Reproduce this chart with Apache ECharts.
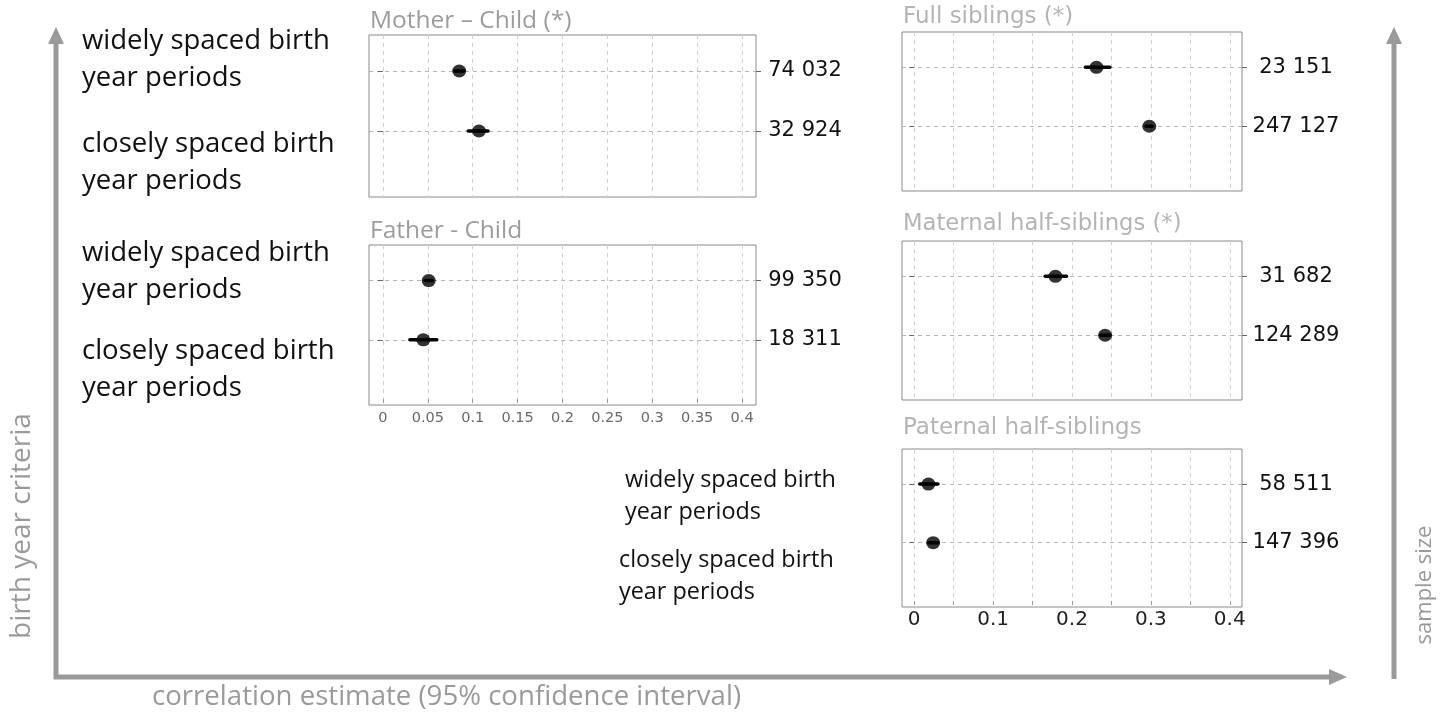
<!DOCTYPE html>
<html><head><meta charset="utf-8">
<script src="https://cdn.jsdelivr.net/npm/echarts@6/dist/echarts.min.js"></script>
<style>html,body{margin:0;padding:0;background:#fff}#c{width:1444px;height:713px}</style>
</head><body><div id="c"></div>
<script>
// ---- data ----
const xTicks = [0, 0.05, 0.1, 0.15, 0.2, 0.25, 0.3, 0.35, 0.4];
const xTicksCoarse = [0, 0.1, 0.2, 0.3, 0.4];
const rowValues = [2, 1]; // [widely spaced, closely spaced]
const rowLabels = ['widely spaced birth\nyear periods', 'closely spaced birth\nyear periods'];
const panelTitles = ['Mother – Child (*)', 'Father - Child', 'Full siblings (*)', 'Maternal half-siblings (*)', 'Paternal half-siblings'];

const motherEst = [0.085, 0.107];
const motherLo  = [0.080, 0.095];
const motherHi  = [0.090, 0.117];
const motherN   = ['74 032', '32 924'];

const fatherEst = [0.051, 0.045];
const fatherLo  = [0.047, 0.030];
const fatherHi  = [0.055, 0.060];
const fatherN   = ['99 350', '18 311'];

const fullEst = [0.231, 0.298];
const fullLo  = [0.217, 0.294];
const fullHi  = [0.248, 0.302];
const fullN   = ['23 151', '247 127'];

const matEst = [0.179, 0.242];
const matLo  = [0.166, 0.236];
const matHi  = [0.193, 0.248];
const matN   = ['31 682', '124 289'];

const patEst = [0.018, 0.024];
const patLo  = [0.007, 0.018];
const patHi  = [0.030, 0.030];
const patN   = ['58 511', '147 396'];

const panels = [
  {est: motherEst, lo: motherLo, hi: motherHi, n: motherN, grid: {left: 369, top: 35, width: 387, height: 162}, xlab: null, nMargin: 49},
  {est: fatherEst, lo: fatherLo, hi: fatherHi, n: fatherN, grid: {left: 369, top: 245, width: 387, height: 160}, xlab: 'fine', nMargin: 49},
  {est: fullEst, lo: fullLo, hi: fullHi, n: fullN, grid: {left: 902, top: 32, width: 340, height: 159}, xlab: null, nMargin: 54},
  {est: matEst, lo: matLo, hi: matHi, n: matN, grid: {left: 902, top: 241, width: 340, height: 159}, xlab: null, nMargin: 54},
  {est: patEst, lo: patLo, hi: patHi, n: patN, grid: {left: 902, top: 449, width: 340, height: 158}, xlab: 'coarse', nMargin: 54}
];

const grids = [], xAxes = [], yAxes = [], series = [];
panels.forEach((p, i) => {
  grids.push(Object.assign({show: true, borderColor: '#8a8a8a', borderWidth: 1, backgroundColor: 'transparent'}, p.grid));
  const coarse = p.xlab === 'coarse';
  xAxes.push({
    gridIndex: i, type: 'value', min: -0.0155, max: 0.4155,
    axisLine: {show: false},
    axisTick: {show: !!p.xlab, customValues: xTicks, length: 4, lineStyle: {color: '#999'}},
    axisLabel: {
      show: !!p.xlab,
      customValues: coarse ? xTicksCoarse : xTicks,
      formatter: v => String(+v.toFixed(2)),
      color: coarse ? '#222' : '#6a6a6a',
      fontFamily: 'DejaVu Sans', fontSize: coarse ? 20 : 14.5, margin: coarse ? 3 : 6
    },
    splitLine: {show: true, lineStyle: {color: '#d0d0d0', type: [4, 4], width: 1}}
  });
  const yBase = {gridIndex: i, type: 'value', min: -0.1, max: 2.6};
  yAxes.push(Object.assign({}, yBase, {
    position: 'left',
    axisLine: {show: false},
    axisTick: {show: true, customValues: rowValues, length: 5, lineStyle: {color: '#666'}},
    axisLabel: {show: false},
    splitLine: {show: true, lineStyle: {color: '#b5b5b5', type: [4, 4], width: 1}}
  }));
  yAxes.push(Object.assign({}, yBase, {
    position: 'right',
    axisLine: {show: false},
    axisTick: {show: true, customValues: rowValues, length: 5, lineStyle: {color: '#666'}},
    axisLabel: {
      show: true, customValues: rowValues,
      formatter: v => p.n[rowValues.indexOf(Math.round(v))],
      align: 'center', margin: p.nMargin,
      color: '#111', fontFamily: 'DejaVu Sans', fontSize: 21
    },
    splitLine: {show: false}
  }));
  series.push({
    type: 'custom', xAxisIndex: i, yAxisIndex: 2 * i, silent: true,
    data: rowValues.map((r, k) => [p.lo[k], p.hi[k], r]),
    renderItem: (params, api) => {
      const a = api.coord([api.value(0), api.value(2)]);
      const b = api.coord([api.value(1), api.value(2)]);
      return {type: 'line', shape: {x1: a[0], y1: a[1], x2: b[0], y2: b[1]}, style: {stroke: '#000', lineWidth: 3.5, lineCap: 'round'}};
    },
    z: 3
  });
  series.push({
    type: 'scatter', xAxisIndex: i, yAxisIndex: 2 * i, silent: true,
    data: rowValues.map((r, k) => [p.est[k], r]),
    symbol: 'circle', symbolSize: [14, 13],
    itemStyle: {color: '#000'}, z: 4
  });
});

const gray = '#9a9a9a';
const graphic = [
  // frame arrows
  {type: 'line', shape: {x1: 56, y1: 679, x2: 56, y2: 40}, style: {stroke: gray, lineWidth: 5}},
  {type: 'polygon', shape: {points: [[48, 44], [64, 44], [56, 27]]}, style: {fill: gray}},
  {type: 'line', shape: {x1: 54, y1: 677, x2: 1332, y2: 677}, style: {stroke: gray, lineWidth: 5}},
  {type: 'polygon', shape: {points: [[1329, 669], [1329, 685], [1347, 677]]}, style: {fill: gray}},
  {type: 'line', shape: {x1: 1394, y1: 679, x2: 1394, y2: 40}, style: {stroke: gray, lineWidth: 5}},
  {type: 'polygon', shape: {points: [[1386, 44], [1402, 44], [1394, 27]]}, style: {fill: gray}},
  // axis titles
  {type: 'text', x: 152, y: 697, style: {text: 'correlation estimate (95% confidence interval)', fill: gray, font: '27.6px "Open Sans"', textVerticalAlign: 'middle'}},
  {type: 'text', x: 22, y: 526, rotation: Math.PI / 2, style: {text: 'birth year criteria', fill: gray, font: '28px "Open Sans"', textAlign: 'center', textVerticalAlign: 'middle'}},
  {type: 'text', x: 1425, y: 585, rotation: Math.PI / 2, style: {text: 'sample size', fill: gray, font: '22px "Open Sans"', textAlign: 'center', textVerticalAlign: 'middle'}},
  // panel titles
  {type: 'text', x: 370, y: 21, style: {text: panelTitles[0], fill: '#9c9c9c', font: '24.5px "Open Sans"', textVerticalAlign: 'middle'}},
  {type: 'text', x: 370, y: 231, style: {text: panelTitles[1], fill: '#9c9c9c', font: '24.5px "Open Sans"', textVerticalAlign: 'middle'}},
  {type: 'text', x: 903, y: 17, style: {text: panelTitles[2], fill: '#b4b4b4', font: '23px "DejaVu Sans"', textVerticalAlign: 'middle'}},
  {type: 'text', x: 903, y: 224, style: {text: panelTitles[3], fill: '#b4b4b4', font: '22.7px "DejaVu Sans"', textVerticalAlign: 'middle'}},
  {type: 'text', x: 903, y: 428, style: {text: panelTitles[4], fill: '#b4b4b4', font: '23px "DejaVu Sans"', textVerticalAlign: 'middle'}}
];
// row criteria labels
const bigLabelY = [60, 163, 272, 370];
bigLabelY.forEach((y, k) => graphic.push({type: 'text', x: 82, y: y, style: {text: rowLabels[k % 2], fill: '#111', font: '27.5px "Open Sans"', lineHeight: 37, textVerticalAlign: 'middle'}}));
graphic.push({type: 'text', x: 625, y: 496, style: {text: rowLabels[0], fill: '#111', font: '23.4px "Open Sans"', lineHeight: 32, textVerticalAlign: 'middle'}});
graphic.push({type: 'text', x: 619, y: 576, style: {text: rowLabels[1], fill: '#111', font: '23.4px "Open Sans"', lineHeight: 32, textVerticalAlign: 'middle'}});

const chart = echarts.init(document.getElementById('c'), null, {renderer: 'canvas'});
chart.setOption({
  animation: false,
  backgroundColor: '#fff',
  grid: grids, xAxis: xAxes, yAxis: yAxes, series: series,
  graphic: graphic
});
</script>
</body></html>
